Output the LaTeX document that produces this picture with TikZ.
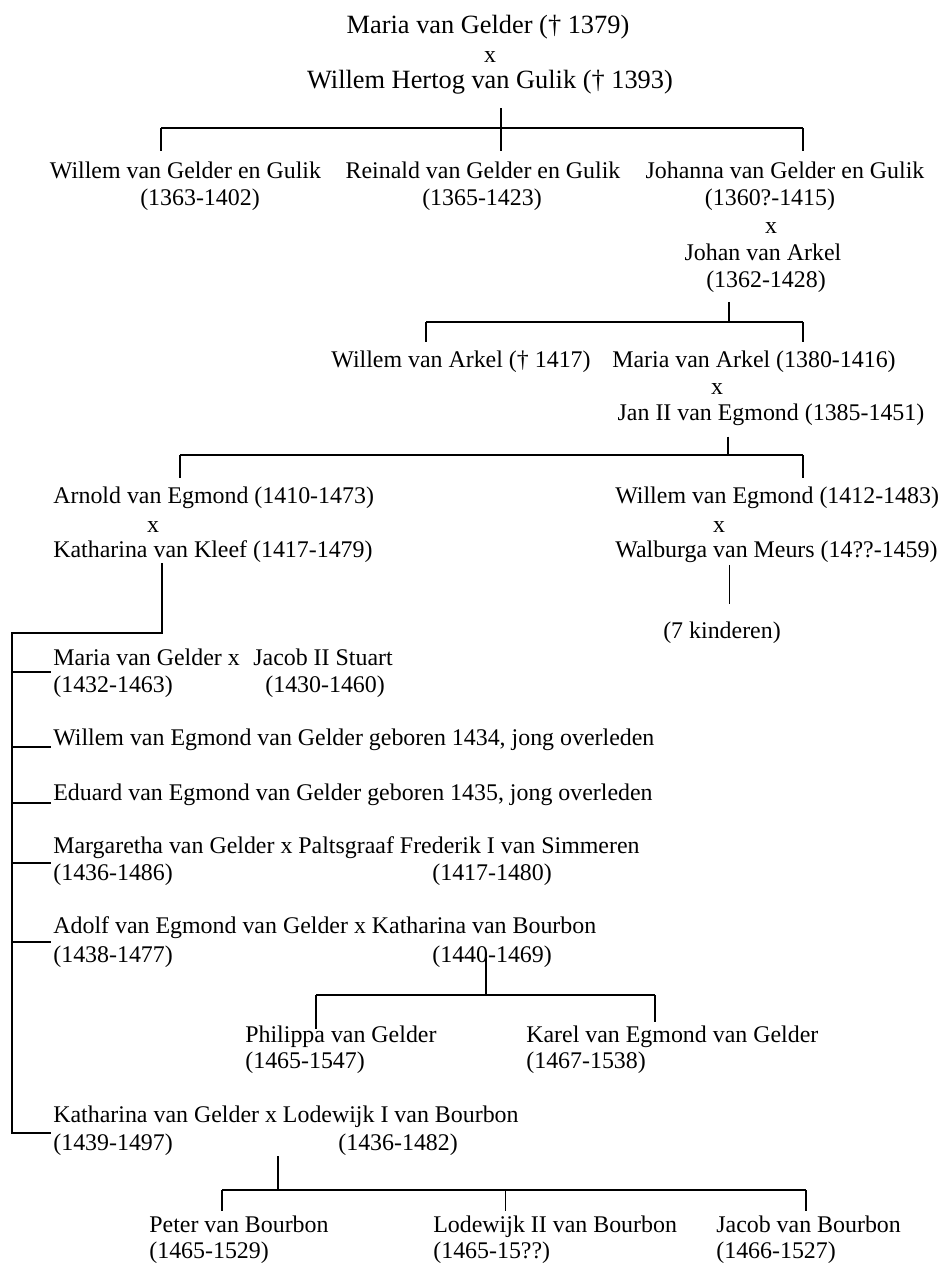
\documentclass[tikz,border=0pt]{standalone}
\usepackage{fontspec}
\setmainfont{Liberation Serif}
\usetikzlibrary{calc}
\tikzset{
    person/.style={
    inner sep=0pt,font=\fontsize{13.6}{16}\selectfont,text height=9.4pt,text depth=2.9pt
    },
    lperson/.style={
    person,anchor=west
    },
    ancestor/.style={
    inner sep=0pt,font=\fontsize{15}{18}\selectfont,text height=10.5pt,text depth=3.2pt
    },
    tree/.style={
    line width=1pt
    },
    stem/.style={
    line width=1pt,shorten <=6pt
    },
    drop/.style={
    line width=1pt,shorten >=6pt
    },
}

\begin{document}
\begin{tikzpicture}
   \useasboundingbox (0,0) rectangle (18.86,-25.3);

   %Maria en Willem
   \node[ancestor] (maria) at (9.76,-0.54) {Maria van Gelder († 1379)};
   \node[person] (x0) at (9.80,-1.14) {x};
   \node[ancestor] (willem) at (9.80,-1.64) {Willem Hertog van Gulik († 1393)};

   %kinderen Maria en Willem
   \node[person] (wgg) at (3.71,-3.46) {Willem van Gelder en Gulik};
   \node[person] (wggd) at (4.00,-4.00) {(1363-1402)};
   \node[person] (rgg) at (9.66,-3.46) {Reinald van Gelder en Gulik};
   \node[person] (rggd) at (9.64,-4.00) {(1365-1423)};
   \node[person] (jgg) at (15.70,-3.46) {Johanna van Gelder en Gulik};
   \node[person] (jggd) at (15.40,-4.00) {(1360?-1415)};
   \node[person] (x1) at (15.42,-4.56) {x};
   \node[person] (jarkel) at (15.26,-5.10) {Johan van Arkel};
   \node[person] (jarkeld) at (15.32,-5.64) {(1362-1428)};

   %kinderen Johanna en Johan
   \node[person] (warkel) at (9.22,-7.24) {Willem van Arkel († 1417)};
   \node[person] (markel) at (15.08,-7.24) {Maria van Arkel (1380-1416)};
   \node[person] (x2) at (14.34,-7.78) {x};
   \node[person] (jan) at (15.42,-8.30) {Jan II van Egmond (1385-1451)};

   %kinderen Maria en Jan
   \node[lperson] (arnold) at (1.06,-9.96) {Arnold van Egmond (1410-1473)};
   \node[person] (x3) at (3.06,-10.54) {x};
   \node[lperson] (kleef) at (1.06,-11.04) {Katharina van Kleef (1417-1479)};
   \node[lperson] (wegmond) at (12.30,-9.96) {Willem van Egmond (1412-1483)};
   \node[person] (x4) at (14.38,-10.54) {x};
   \node[lperson] (meurs) at (12.30,-11.04) {Walburga van Meurs (14??-1459)};
   \node[person] (kinderen) at (14.44,-12.66) {(7 kinderen)};

   %kinderen Arnold en Katharina
   \node[lperson] (c1) at (1.06,-13.20) {Maria van Gelder x};
   \node[lperson] (c1b) at (5.06,-13.20) {Jacob II Stuart};
   \node[lperson] (c1d) at (1.06,-13.74) {(1432-1463)};
   \node[lperson] (c1bd) at (5.30,-13.74) {(1430-1460)};
   \node[lperson] (c2) at (1.06,-14.80) {Willem van Egmond van Gelder geboren 1434, jong overleden};
   \node[lperson] (c3) at (1.06,-15.90) {Eduard van Egmond van Gelder geboren 1435, jong overleden};
   \node[lperson] (c4) at (1.06,-16.96) {Margaretha van Gelder x Paltsgraaf Frederik I van Simmeren};
   \node[lperson] (c4d) at (1.06,-17.50) {(1436-1486)};
   \node[lperson] (c4bd) at (8.64,-17.50) {(1417-1480)};
   \node[lperson] (c5) at (1.06,-18.56) {Adolf van Egmond van Gelder x Katharina van Bourbon};
   \node[lperson] (c5d) at (1.06,-19.14) {(1438-1477)};
   \node[lperson] (c5bd) at (8.64,-19.14) {(1440-1469)};
   \node[lperson] (c6) at (1.06,-22.34) {Katharina van Gelder x Lodewijk I van Bourbon};
   \node[lperson] (c6d) at (1.06,-22.90) {(1439-1497)};
   \node[lperson] (c6bd) at (6.76,-22.90) {(1436-1482)};

   %kinderen Adolf en Katharina
   \node[lperson] (philippa) at (4.90,-20.74) {Philippa van Gelder};
   \node[lperson] (philippad) at (4.90,-21.26) {(1465-1547)};
   \node[lperson] (karel) at (10.52,-20.74) {Karel van Egmond van Gelder};
   \node[lperson] (kareld) at (10.52,-21.26) {(1467-1538)};

   %kinderen Katharina en Lodewijk
   \node[lperson] (peter) at (2.98,-24.54) {Peter van Bourbon};
   \node[lperson] (peterd) at (2.98,-25.06) {(1465-1529)};
   \node[lperson] (lodewijk) at (8.66,-24.54) {Lodewijk II van Bourbon};
   \node[lperson] (lodewijkd) at (8.66,-25.06) {(1465-15??)};
   \node[lperson] (jacob) at (14.32,-24.54) {Jacob van Bourbon};
   \node[lperson] (jacobd) at (14.32,-25.06) {(1466-1527)};

   %balken
   \coordinate (b1l) at (3.22,-2.56);
   \coordinate (b1m) at (10.02,-2.56);
   \coordinate (b1r) at (16.06,-2.56);
   \coordinate (b2l) at (8.52,-6.44);
   \coordinate (b2m) at (14.58,-6.44);
   \coordinate (b2r) at (16.06,-6.44);
   \coordinate (b3l) at (3.60,-9.10);
   \coordinate (b3m) at (14.56,-9.10);
   \coordinate (b3r) at (16.06,-9.10);
   \coordinate (k1) at (3.24,-12.66);
   \coordinate (sp) at (0.24,-12.66);
   \coordinate (br1) at (1.02,-13.44);
   \coordinate (br2) at (1.02,-14.94);
   \coordinate (br3) at (1.02,-16.06);
   \coordinate (br4) at (1.02,-17.26);
   \coordinate (br5) at (1.02,-18.84);
   \coordinate (br6) at (1.02,-22.66);
   \coordinate (b5l) at (6.32,-19.90);
   \coordinate (b5m) at (9.72,-19.90);
   \coordinate (b5r) at (13.10,-19.90);
   \coordinate (b6l) at (4.44,-23.80);
   \coordinate (b6m) at (5.56,-23.80);
   \coordinate (b6c) at (10.10,-23.80);
   \coordinate (b6r) at (16.12,-23.80);

   \draw[tree] (kleef.south -| k1) -- (k1) -- (sp) |- (br6);

  \path[tree]
    %kinderen Maria en Willem
    (b1l) edge (b1r)
    (willem.south -| b1m) edge [stem, shorten <=8pt] (b1m)
    (b1l) edge [drop] (b1l |- wgg.north)
    (b1m) edge [drop] (b1m |- rgg.north)
    (b1r) edge [drop] (b1r |- jgg.north)

    %kinderen Johanna en Johan
    (b2l) edge (b2r)
    (jarkeld.south -| b2m) edge [stem, shorten <=5pt] (b2m)
    (b2l) edge [drop, shorten >=5pt] (b2l |- warkel.north)
    (b2r) edge [drop, shorten >=5pt] (b2r |- markel.north)

    %kinderen Maria en Jan
    (b3l) edge (b3r)
    (jan.south -| b3m) edge [stem] (b3m)
    (b3l) edge [drop, shorten >=5pt] (b3l |- arnold.north)
    (b3r) edge [drop, shorten >=5pt] (b3r |- wegmond.north)
    (meurs.south -| b2m) edge [thin, shorten <=1pt, shorten >=10pt] (kinderen.north -| b2m)

    %kinderen Arnold en Katharina
    (sp |- br1) edge (br1)
    (sp |- br2) edge (br2)
    (sp |- br3) edge (br3)
    (sp |- br4) edge (br4)
    (sp |- br5) edge (br5)

    %kinderen Adolf en Katharina
    (b5l) edge (b5r)
    (c5bd.center -| b5m) edge (b5m)
    (b5l) edge [drop, shorten >=-2pt] (b5l |- philippa.north)
    (b5r) edge [drop, shorten >=2pt] (b5r |- karel.north)

    %kinderen Katharina en Lodewijk
    (b6l) edge (b6r)
    (c6d.south -| b6m) edge (b6m)
    (b6l) edge [drop, shorten >=3pt] (b6l |- peter.north)
    (b6c) edge [thin, shorten >=3pt] (b6c |- lodewijk.north)
    (b6r) edge [drop, shorten >=3pt] (b6r |- jacob.north);
\end{tikzpicture}
\end{document}
